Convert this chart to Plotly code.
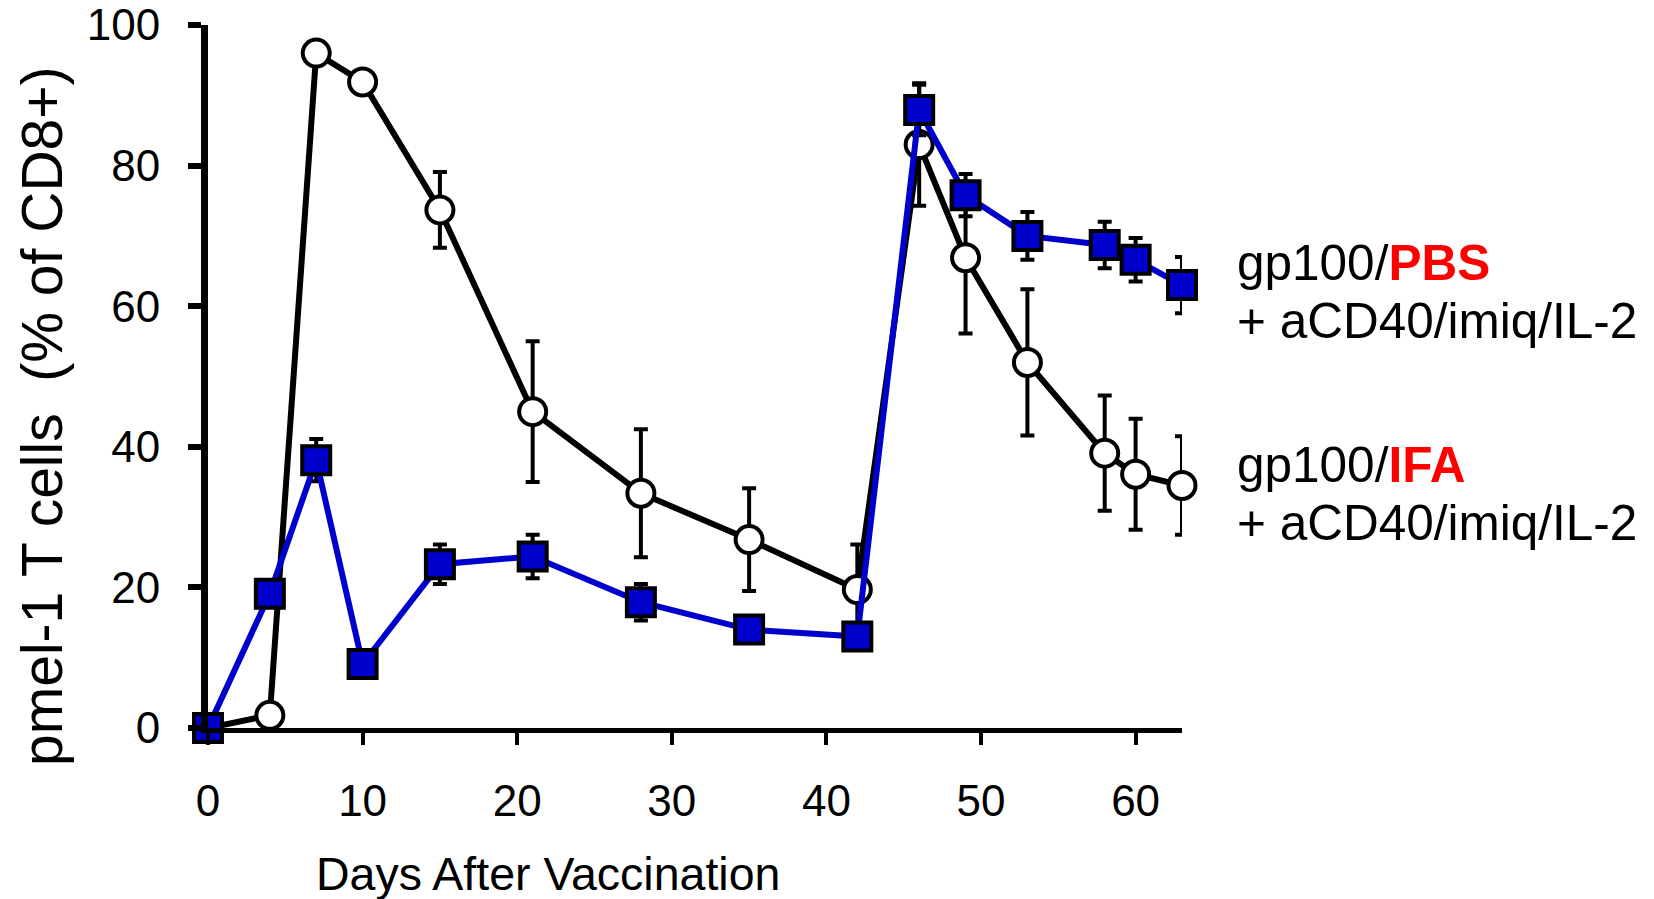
import plotly.graph_objects as go

# ---- data ----
days = [0, 4, 7, 10, 15, 21, 28, 35, 42, 46, 49, 53, 58, 60, 63]

ifa_mean = [0, 1.8, 96.0, 91.9, 73.7, 45.0, 33.4, 26.8, 19.7, 83.0, 66.9, 52.0, 39.1, 36.1, 34.5]
ifa_err = [0, 0.5, 1.0, 1.0, 5.4, 10.0, 9.1, 7.3, 6.4, 8.7, 10.8, 10.4, 8.2, 7.9, 7.0]

pbs_mean = [0, 19.1, 38.1, 9.1, 23.3, 24.4, 17.9, 14.0, 13.0, 87.9, 75.8, 70.0, 68.7, 66.6, 63.0]
pbs_err = [0, 1.0, 3.0, 0.5, 2.8, 3.1, 2.6, 1.0, 1.0, 3.6, 3.0, 3.4, 3.3, 3.1, 4.0]

x_ticks = [0, 10, 20, 30, 40, 50, 60]
y_ticks = [0, 20, 40, 60, 80, 100]

x_title = "Days After Vaccination"
y_title = "pmel-1 T cells\u00a0 (% of CD8+)"
legend_lines = [
    "gp100/<b><span style='color:#FF0000'>PBS</span></b>",
    "+ aCD40/imiq/IL-2",
    "gp100/<b><span style='color:#FF0000'>IFA</span></b>",
    "+ aCD40/imiq/IL-2",
]

# ---- layout geometry (pixels) ----
W, H = 1654, 899
L, RX, T, BY = 208, 1182, 25, 728
FONT = "Liberation Sans, Arial, Helvetica, sans-serif"


def pxx(xp):
    return (xp - L) / (RX - L)


def pxy(yp):
    return (BY - yp) / (BY - T)


BLUE = "#0000CC"

fig = go.Figure()

fig.add_trace(go.Scatter(
    x=days, y=ifa_mean, mode="lines+markers", name="gp100/IFA",
    line=dict(color="black", width=6),
    marker=dict(symbol="circle", size=27, color="white", line=dict(color="black", width=4)),
    error_y=dict(type="data", array=ifa_err, visible=True, color="black", thickness=4, width=7),
    cliponaxis=False,
))

fig.add_trace(go.Scatter(
    x=days, y=pbs_mean, mode="lines+markers", name="gp100/PBS",
    line=dict(color=BLUE, width=6),
    marker=dict(symbol="square", size=28, color=BLUE, line=dict(color="black", width=4)),
    error_y=dict(type="data", array=pbs_err, visible=True, color="black", thickness=4, width=7),
    cliponaxis=False,
))

annotations = []
# y-axis title
annotations.append(dict(
    text=y_title, textangle=-90, xref="paper", yref="paper",
    x=pxx(42), y=pxy(416), xanchor="center", yanchor="middle",
    showarrow=False, font=dict(family=FONT, size=57, color="black"),
))
# x-axis title
annotations.append(dict(
    text=x_title, xref="paper", yref="paper",
    x=pxx(314), y=pxy(874), xanchor="left", yanchor="middle",
    showarrow=False, font=dict(family=FONT, size=46.5, color="black"),
))
# legend text
legend_y = [262, 320, 464, 522]
for txt, yp in zip(legend_lines, legend_y):
    annotations.append(dict(
        text=txt, xref="paper", yref="paper",
        x=pxx(1235), y=pxy(yp), xanchor="left", yanchor="middle",
        showarrow=False, font=dict(family=FONT, size=49.5, color="black"),
    ))

fig.update_layout(
    width=W, height=H,
    margin=dict(l=L, r=W - RX, t=T, b=H - BY, pad=0, autoexpand=False),
    paper_bgcolor="white", plot_bgcolor="white",
    showlegend=False,
    annotations=annotations,
    font=dict(family=FONT, color="black"),
)

fig.update_xaxes(
    range=[0, 63], tickmode="array", tickvals=x_ticks, ticktext=[str(v) for v in x_ticks],
    showline=True, linecolor="black", linewidth=4.5,
    ticks="outside", ticklen=12, tickwidth=4, tickcolor="black",
    showgrid=False, zeroline=False, automargin=False,
    tickfont=dict(family=FONT, size=44, color="black"),
    ticklabelstandoff=18,
)
fig.update_yaxes(
    range=[0, 100], tickmode="array", tickvals=y_ticks, ticktext=[str(v) for v in y_ticks],
    showline=True, linecolor="black", linewidth=7,
    ticks="outside", ticklen=13, tickwidth=6, tickcolor="black",
    showgrid=False, zeroline=False, automargin=False,
    tickfont=dict(family=FONT, size=44, color="black"),
    ticklabelstandoff=19,
)

fig.write_html("out.html")
